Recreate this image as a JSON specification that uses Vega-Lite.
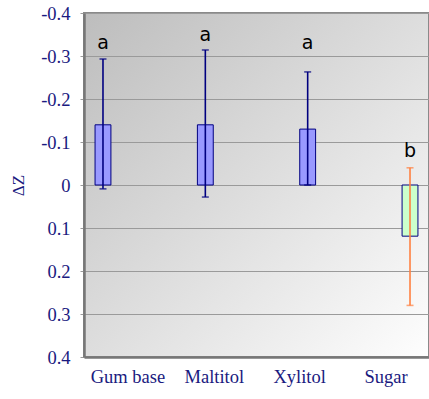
{
  "$schema": "https://vega.github.io/schema/vega-lite/v6.json",
  "width": 345,
  "height": 344,
  "autosize": {"type": "none"},
  "padding": {"left": 84, "top": 13, "right": 0, "bottom": 42},
  "background": "white",
  "config": {
    "view": {
      "stroke": "#8a8a8a",
      "strokeWidth": 2,
      "fill": {"gradient": "linear", "x1": 0, "y1": 0, "x2": 1, "y2": 1,
        "stops": [{"offset": 0, "color": "#bdbdbd"}, {"offset": 1, "color": "#fefefe"}]}
    }
  },
  "data": {
    "values": [
      {"cat": "Gum base", "mean": -0.14, "lo": -0.293, "hi": 0.009, "letter": "a", "lpos": -0.33},
      {"cat": "Maltitol", "mean": -0.14, "lo": -0.314, "hi": 0.028, "letter": "a", "lpos": -0.348},
      {"cat": "Xylitol", "mean": -0.13, "lo": -0.263, "hi": 0.0, "letter": "a", "lpos": -0.33},
      {"cat": "Sugar", "mean": 0.119, "lo": -0.04, "hi": 0.28, "letter": "b", "lpos": -0.078}
    ]
  },
  "encoding": {
    "x": {
      "field": "cat", "type": "nominal", "sort": null,
      "scale": {"paddingInner": 0.845, "paddingOuter": 0.108},
      "axis": {
        "title": null, "labelAngle": 0, "ticks": false, "domain": true,
        "domainColor": "#777777", "domainWidth": 2.5,
        "labelFont": "Times New Roman, Liberation Serif, DejaVu Serif, serif", "labelFontSize": 18.5, "labelColor": "#1a1a80",
        "labelPadding": 10,
        "labelOffset": {
          "condition": [
            {"test": "datum.value == 'Gum base'", "value": 25},
            {"test": "datum.value == 'Maltitol'", "value": 9},
            {"test": "datum.value == 'Xylitol'", "value": -8}
          ],
          "value": -24
        }
      }
    }
  },
  "layer": [
    {
      "mark": {"type": "bar", "stroke": "#000080", "strokeWidth": 1},
      "encoding": {
        "y": {
          "field": "mean", "type": "quantitative",
          "scale": {"domain": [-0.4, 0.4], "reverse": true, "nice": false, "zero": false},
          "axis": {
            "title": "ΔZ", "titleFont": "Times New Roman, Liberation Serif, DejaVu Serif, serif", "titleFontSize": 17,
            "titleFontWeight": "normal", "titleColor": "#1a1a80", "titlePadding": 13,
            "values": [-0.4, -0.3, -0.2, -0.1, 0, 0.1, 0.2, 0.3, 0.4],
            "labelExpr": "datum.value == 0 ? '0' : (datum.value < 0 ? '-' : '') + format(abs(datum.value), '.1f')",
            "labelFont": "Times New Roman, Liberation Serif, DejaVu Serif, serif", "labelFontSize": 18.5, "labelColor": "#1a1a80",
            "labelPadding": 10,
            "grid": true, "gridColor": "#9a9a9a", "gridWidth": 1,
            "tickColor": "#9a9a9a", "tickSize": 4,
            "domainColor": "#777777", "domainWidth": 2.5
          }
        },
        "y2": {"datum": 0},
        "fill": {
          "field": "cat", "type": "nominal", "legend": null,
          "scale": {"domain": ["Gum base", "Maltitol", "Xylitol", "Sugar"],
                    "range": ["#9999ff", "#9999ff", "#9999ff", "#ccffcc"]}
        }
      }
    },
    {
      "mark": {"type": "rule", "strokeWidth": 1.6},
      "encoding": {
        "y": {"field": "lo", "type": "quantitative"},
        "y2": {"field": "hi"},
        "color": {
          "field": "cat", "type": "nominal", "legend": null,
          "scale": {"domain": ["Gum base", "Maltitol", "Xylitol", "Sugar"],
                    "range": ["#000080", "#000080", "#000080", "#ff8040"]}
        }
      }
    },
    {
      "mark": {"type": "tick", "thickness": 1.6, "size": 7},
      "encoding": {
        "y": {"field": "lo", "type": "quantitative"},
        "color": {"field": "cat", "type": "nominal", "legend": null}
      }
    },
    {
      "mark": {"type": "tick", "thickness": 1.6, "size": 7},
      "encoding": {
        "y": {"field": "hi", "type": "quantitative"},
        "color": {"field": "cat", "type": "nominal", "legend": null}
      }
    },
    {
      "mark": {"type": "text", "font": "DejaVu Sans", "fontSize": 19, "color": "black", "baseline": "middle"},
      "encoding": {
        "y": {"field": "lpos", "type": "quantitative"},
        "text": {"field": "letter"}
      }
    }
  ]
}
